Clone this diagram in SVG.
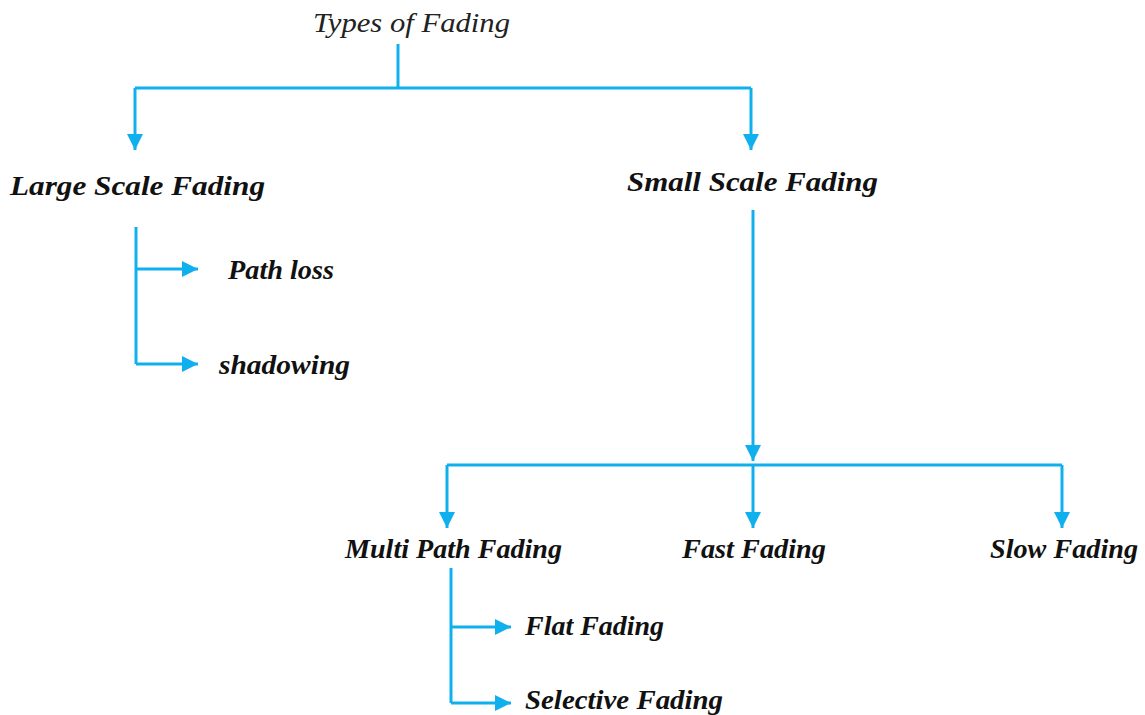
<svg xmlns="http://www.w3.org/2000/svg" width="1145" height="715" viewBox="0 0 1145 715">
  <style>
    .lbl { font-family: "Liberation Serif", "DejaVu Serif", serif; font-style: italic; font-weight: bold; font-size: 28px; fill: #111; }
    .title { font-family: "Liberation Serif", "DejaVu Serif", serif; font-style: italic; font-size: 28px; fill: #222; }
    .wire { fill: none; stroke: #10b0ee; stroke-width: 3; stroke-linejoin: miter; }
  </style>
  <defs>
    <marker id="arrow" viewBox="0 0 10 10" refX="10" refY="5" markerWidth="5.5" markerHeight="5.5" markerUnits="strokeWidth" orient="auto">
      <path d="M0,0 L10,5 L0,10 Z" fill="#10b0ee"/>
    </marker>
  </defs>
  <rect width="1145" height="715" fill="#fff"/>

  <g id="connectors">
    <!-- root split -->
    <path class="wire" d="M398,44 V88"/>
    <path class="wire" d="M135,88 H751"/>
    <path class="wire" d="M135,88 V150" marker-end="url(#arrow)"/>
    <path class="wire" d="M751,88 V150" marker-end="url(#arrow)"/>
    <!-- large scale branches -->
    <path class="wire" d="M136,227 V364"/>
    <path class="wire" d="M136,269 H198" marker-end="url(#arrow)"/>
    <path class="wire" d="M136,364 H198" marker-end="url(#arrow)"/>
    <!-- small scale split -->
    <path class="wire" d="M753,210 V461" marker-end="url(#arrow)"/>
    <path class="wire" d="M447,465 H1062"/>
    <path class="wire" d="M447,465 V528" marker-end="url(#arrow)"/>
    <path class="wire" d="M753,465 V528" marker-end="url(#arrow)"/>
    <path class="wire" d="M1062,465 V528" marker-end="url(#arrow)"/>
    <!-- multipath branches -->
    <path class="wire" d="M451,568 V703"/>
    <path class="wire" d="M451,627 H511" marker-end="url(#arrow)"/>
    <path class="wire" d="M451,703 H511" marker-end="url(#arrow)"/>
  </g>

  <g id="types-of-fading"><text class="title" x="313" y="32" textLength="197" lengthAdjust="spacingAndGlyphs">Types of Fading</text></g>
  <g id="large-scale"><text class="lbl" x="10" y="195" textLength="255" lengthAdjust="spacingAndGlyphs">Large Scale Fading</text></g>
  <g id="small-scale"><text class="lbl" x="627" y="191" textLength="251" lengthAdjust="spacingAndGlyphs">Small Scale Fading</text></g>
  <g id="path-loss"><text class="lbl" x="228" y="279" textLength="106" lengthAdjust="spacingAndGlyphs">Path loss</text></g>
  <g id="shadowing"><text class="lbl" x="219" y="374" textLength="131" lengthAdjust="spacingAndGlyphs">shadowing</text></g>
  <g id="multi-path"><text class="lbl" x="345" y="558" textLength="217" lengthAdjust="spacingAndGlyphs">Multi Path Fading</text></g>
  <g id="fast-fading"><text class="lbl" x="682" y="558" textLength="144" lengthAdjust="spacingAndGlyphs">Fast Fading</text></g>
  <g id="slow-fading"><text class="lbl" x="990" y="558" textLength="148" lengthAdjust="spacingAndGlyphs">Slow Fading</text></g>
  <g id="flat-fading"><text class="lbl" x="525" y="635" textLength="139" lengthAdjust="spacingAndGlyphs">Flat Fading</text></g>
  <g id="selective-fading"><text class="lbl" x="525" y="709" textLength="198" lengthAdjust="spacingAndGlyphs">Selective Fading</text></g>
</svg>
